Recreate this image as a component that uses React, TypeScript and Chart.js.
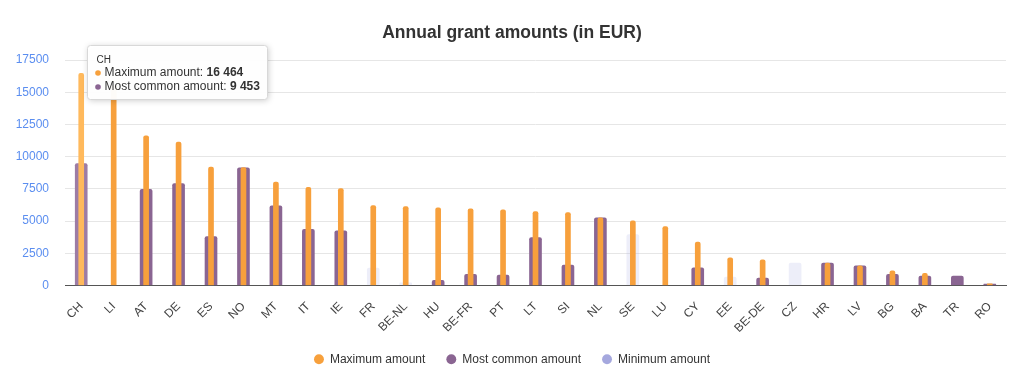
import React, { useEffect, useRef } from "react";
import { Chart, registerables } from "chart.js";

Chart.register(...registerables);

const categories = ["CH","LI","AT","DE","ES","NO","MT","IT","IE","FR","BE-NL","HU","BE-FR","PT","LT","SI","NL","SE","LU","CY","EE","BE-DE","CZ","HR","LV","BG","BA","TR","RO"];

const maximumAmount = [16464,15500,11614,11127,9191,9150,8029,7611,7511,6194,6117,6014,5937,5860,5730,5652,5239,5008,4568,3355,2142,1987,null,1729,1523,1136,929,null,130];
const mostCommonAmount = [9453,null,7457,7898,3794,9120,6171,4360,4235,null,null,387,852,800,3717,1574,5239,null,null,1368,null,568,null,1729,1523,852,723,723,100];
const minimumAmount = [null,null,null,null,null,null,null,null,null,1342,200,null,null,null,null,null,null,3949,null,null,645,null,1729,null,null,null,null,null,null];

const yTicks = [0,2500,5000,7500,10000,12500,15000,17500];

const seriesNames = ["Maximum amount","Most common amount","Minimum amount"];
const legendColors = ["#f7a03c","#8a6592","#a5a8de"];
const hoveredIndex = 0;

const FONT = "'Liberation Sans', Arial, Helvetica, sans-serif";

function fmt(v: number) {
  return String(v).replace(/\B(?=(\d{3})+(?!\d))/g, " ");
}

const tooltipPlugin = {
  id: "staticTooltip",
  afterDraw(chart: any) {
    const ctx = chart.ctx as CanvasRenderingContext2D;
    const series = [
      { name: seriesNames[0], color: legendColors[0], value: maximumAmount[hoveredIndex] },
      { name: seriesNames[1], color: legendColors[1], value: mostCommonAmount[hoveredIndex] },
      { name: seriesNames[2], color: legendColors[2], value: minimumAmount[hoveredIndex] },
    ].filter((s) => s.value !== null) as { name: string; color: string; value: number }[];
    const el = chart.getDatasetMeta(0).data[hoveredIndex];
    const x0 = Math.round(el.x + 6) + 0.5;
    const y0 = Math.round(chart.chartArea.top - 15) + 0.5;
    ctx.save();
    let maxW = 0;
    series.forEach((s) => {
      ctx.font = `12px ${FONT}`;
      const w1 = ctx.measureText(s.name + ": ").width;
      ctx.font = `bold 12px ${FONT}`;
      const w2 = ctx.measureText(fmt(s.value)).width;
      maxW = Math.max(maxW, w1 + w2);
    });
    const w = Math.round(18 + maxW + 7);
    const h = 14 + series.length * 14 + 12;
    ctx.shadowColor = "rgba(0,0,0,0.22)";
    ctx.shadowBlur = 6;
    ctx.shadowOffsetX = 1;
    ctx.shadowOffsetY = 1;
    ctx.fillStyle = "rgba(255,255,255,0.97)";
    ctx.beginPath();
    (ctx as any).roundRect(x0, y0, w, h, 3);
    ctx.fill();
    ctx.shadowColor = "transparent";
    ctx.strokeStyle = "#d8d8d8";
    ctx.lineWidth = 1;
    ctx.stroke();
    ctx.textBaseline = "middle";
    ctx.textAlign = "left";
    ctx.fillStyle = "#333333";
    ctx.font = `10px ${FONT}`;
    ctx.fillText(categories[hoveredIndex], x0 + 9, y0 + 14.5);
    series.forEach((s, i) => {
      const cy = y0 + 27.5 + i * 14;
      ctx.fillStyle = s.color;
      ctx.beginPath();
      ctx.arc(x0 + 10.5, cy, 2.8, 0, Math.PI * 2);
      ctx.fill();
      ctx.fillStyle = "#333333";
      ctx.font = `12px ${FONT}`;
      const label = s.name + ": ";
      ctx.fillText(label, x0 + 17, cy);
      const lw = ctx.measureText(label).width;
      ctx.font = `bold 12px ${FONT}`;
      ctx.fillText(fmt(s.value), x0 + 17 + lw, cy);
    });
    ctx.restore();
  },
};

export default function App() {
  const ref = useRef<HTMLCanvasElement | null>(null);
  useEffect(() => {
    if (!ref.current) return;
    Chart.defaults.font.family = FONT;
    const chart = new Chart(ref.current, {
      type: "bar",
      data: {
        labels: categories,
        datasets: [
          {
            label: seriesNames[0],
            data: maximumAmount,
            backgroundColor: legendColors[0],
            hoverBackgroundColor: "#ffb95c",
            barThickness: 5,
            borderRadius: 2,
            grouped: false,
          } as any,
          {
            label: seriesNames[1],
            data: mostCommonAmount,
            backgroundColor: legendColors[1],
            hoverBackgroundColor: "#9d7ca5",
            barThickness: 12,
            borderRadius: 2,
            grouped: false,
          },
          {
            label: seriesNames[2],
            data: minimumAmount,
            backgroundColor: "rgba(167,170,223,0.2)",
            hoverBackgroundColor: "rgba(167,170,223,0.2)",
            barThickness: 12,
            borderRadius: 2,
            grouped: false,
          },
        ],
      },
      options: {
        animation: false,
        responsive: true,
        maintainAspectRatio: false,
        events: [],
        layout: { padding: { left: 0, right: 0, top: 0, bottom: 8.8 } },
        scales: {
          x: {
            grid: { display: false, drawTicks: false },
            border: { display: true, color: "#555555", width: 1 },
            ticks: {
              autoSkip: false,
              maxRotation: 45,
              minRotation: 45,
              padding: 14,
              color: "#444444",
              font: { size: 12 },
            },
            afterFit: (scale: any) => {
              scale.height = 46.8;
            },
          },
          y: {
            min: 0,
            max: 17500,
            afterBuildTicks: (scale: any) => {
              scale.ticks = yTicks.map((v) => ({ value: v }));
            },
            grid: { color: "#e6e6e6", drawTicks: false },
            border: { display: false },
            ticks: {
              padding: 16,
              color: "#5b8ef0",
              font: { size: 12 },
              callback: (v: any) => String(v),
            },
            afterFit: (scale: any) => {
              scale.width = 65;
            },
          },
          yRight: {
            type: "linear",
            position: "right",
            display: true,
            grid: { display: false, drawTicks: false },
            border: { display: false },
            ticks: { display: false },
            afterFit: (scale: any) => {
              scale.width = 18;
            },
          },
        },
        plugins: {
          title: {
            display: true,
            text: "Annual grant amounts (in EUR)",
            color: "#333333",
            font: { size: 17.5, weight: "bold" },
            padding: { top: 23, bottom: 16 },
          },
          legend: {
            position: "bottom",
            labels: {
              usePointStyle: true,
              pointStyle: "circle",
              boxWidth: 10,
              boxHeight: 7,
              padding: 21,
              color: "#333333",
              font: { size: 12 },
              generateLabels: (c: any) =>
                (Chart.defaults.plugins.legend.labels as any).generateLabels(c).map((l: any, i: number) => ({
                  ...l,
                  fillStyle: legendColors[i],
                  strokeStyle: legendColors[i],
                  lineWidth: 0,
                  pointStyle: "circle",
                })),
            },
          },
          tooltip: { enabled: false },
        },
      } as any,
      plugins: [tooltipPlugin],
    });
    chart.setActiveElements([
      { datasetIndex: 0, index: hoveredIndex },
      { datasetIndex: 1, index: hoveredIndex },
    ]);
    chart.update("none");
    return () => chart.destroy();
  }, []);
  return (
    <div style={{ position: "fixed", left: 0, top: 0, width: 1024, height: 384, background: "#fff" }}>
      <canvas ref={ref} />
    </div>
  );
}
